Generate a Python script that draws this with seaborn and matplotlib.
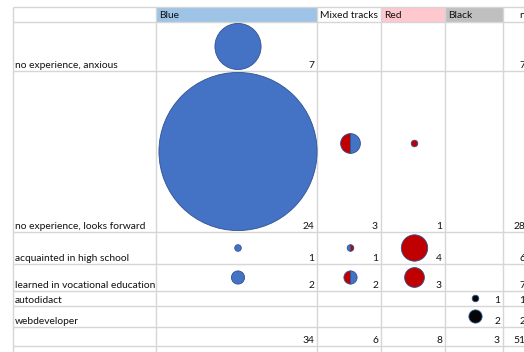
import seaborn as sns
import matplotlib.pyplot as plt
import pandas as pd
from matplotlib.markers import MarkerStyle
from matplotlib.patches import Rectangle

# data
rows = ["no experience, anxious", "no experience, looks forward",
        "acquainted in high school", "learned in vocational education",
        "autodidact", "webdeveloper"]
tracks = ["Blue", "Mixed tracks", "Red", "Black"]
blue = [7, 24, 1, 2, 0, 0]
mixed = [0, 3, 1, 2, 0, 0]
red = [0, 1, 4, 3, 0, 0]
black = [0, 0, 0, 0, 1, 2]
# which colour fills the left half of the mixed bubbles
mixed_left = ["", "Red", "Blue", "Red", "", ""]

sns.set_theme(style="white")
plt.rcParams['font.family'] = ['Lato', 'DejaVu Sans']

# sheet layout in pixels
col_edges = [13, 156, 317, 381, 445, 503, 560]
row_edges = [7, 22, 71, 232, 264, 291, 306, 327, 346]
fill = {"Blue": "#4472C4", "Red": "#C00000", "Black": "#050505"}
head_fill = {"Blue": "#9DC3E6", "Red": "#FFC7CE", "Black": "#BFBFBF"}
grid_c = "#D6D6D6"
txt_c = "#111111"
fs = 7.4


def col_center(i):
    return (col_edges[i + 1] + col_edges[i + 2]) / 2 + 1.5


def row_center(j, t="Blue"):
    # small bubbles in the tall row sit a bit above the middle
    off = 8 if (j == 1 and t != "Blue") else 0
    return (row_edges[j + 1] + row_edges[j + 2]) / 2 - off


fig = plt.figure(figsize=(5.24, 3.52), dpi=100)
ax = fig.add_axes([0, 0, 1, 1])
ax.set_xlim(0, 524)
ax.set_ylim(352, 0)
ax.axis("off")

# header fills
for i, t in enumerate(tracks):
    if t in head_fill:
        ax.add_patch(Rectangle((col_edges[i + 1], row_edges[0]),
                               col_edges[i + 2] - col_edges[i + 1],
                               row_edges[1] - row_edges[0],
                               color=head_fill[t], lw=0, zorder=0))

# grid
ax.hlines(row_edges, col_edges[0], 524, color=grid_c, lw=1, zorder=1)
ax.vlines(col_edges[:-1], row_edges[0], 352, color=grid_c, lw=1, zorder=1)

k = 22.5  # marker area per value^2 (radius grows with value)
values = {"Blue": blue, "Mixed tracks": mixed, "Red": red, "Black": black}

recs = []
for i, t in enumerate(tracks):
    if t == "Mixed tracks":
        continue
    for j, v in enumerate(values[t]):
        if v > 0:
            recs.append({"track": t, "value": v,
                         "x": col_center(i), "y": row_center(j, t)})
df = pd.DataFrame(recs)
sizes = {v: k * v ** 2 for v in df["value"].unique()}
sns.scatterplot(data=df, x="x", y="y", hue="track", palette=fill,
                size="value", sizes=sizes, legend=False, ax=ax,
                edgecolor="#2F528F", linewidth=0.6, zorder=3)

# mixed tracks: half red, half blue
left_recs, right_recs = [], []
for j, v in enumerate(mixed):
    if v > 0:
        lc = mixed_left[j]
        rc = "Blue" if lc == "Red" else "Red"
        yy = row_center(j, "Mixed tracks")
        left_recs.append({"c": lc, "value": v, "x": col_center(1), "y": yy})
        right_recs.append({"c": rc, "value": v, "x": col_center(1), "y": yy})
for recs_half, side in [(left_recs, "left"), (right_recs, "right")]:
    dh = pd.DataFrame(recs_half)
    sns.scatterplot(data=dh, x="x", y="y", hue="c", palette=fill,
                    size="value", sizes={v: k * v ** 2 for v in dh["value"].unique()},
                    marker=MarkerStyle("o", fillstyle=side), legend=False, ax=ax,
                    edgecolor="#2F528F", linewidth=0.6, zorder=3)

# header text
for i, t in enumerate(tracks):
    ax.text(col_edges[i + 1] + 3, 15, t, fontsize=fs, color=txt_c,
            va="center", ha="left", zorder=4)
ax.text(519, 15, "n", fontsize=fs, color=txt_c, va="center", ha="left", zorder=4)

# row labels and numbers
for j, r in enumerate(rows):
    yb = row_edges[j + 2] - 1
    ax.text(15, yb, r, fontsize=fs, color=txt_c, va="bottom", ha="left", zorder=4)
    for i, t in enumerate(tracks):
        v = values[t][j]
        if v > 0:
            ax.text(col_edges[i + 2] - 3, yb, str(v), fontsize=fs, color=txt_c,
                    va="bottom", ha="right", zorder=4)
    ax.text(525, yb, str(sum(values[t][j] for t in tracks)), fontsize=fs,
            color=txt_c, va="bottom", ha="right", zorder=4)

# totals row
yb = row_edges[-1] - 1
for i, t in enumerate(tracks):
    ax.text(col_edges[i + 2] - 3, yb, str(sum(values[t])), fontsize=fs,
            color=txt_c, va="bottom", ha="right", zorder=4)
ax.text(525, yb, str(sum(sum(values[t]) for t in tracks)), fontsize=fs,
        color=txt_c, va="bottom", ha="right", zorder=4)

fig.savefig("out.png", dpi=100)
